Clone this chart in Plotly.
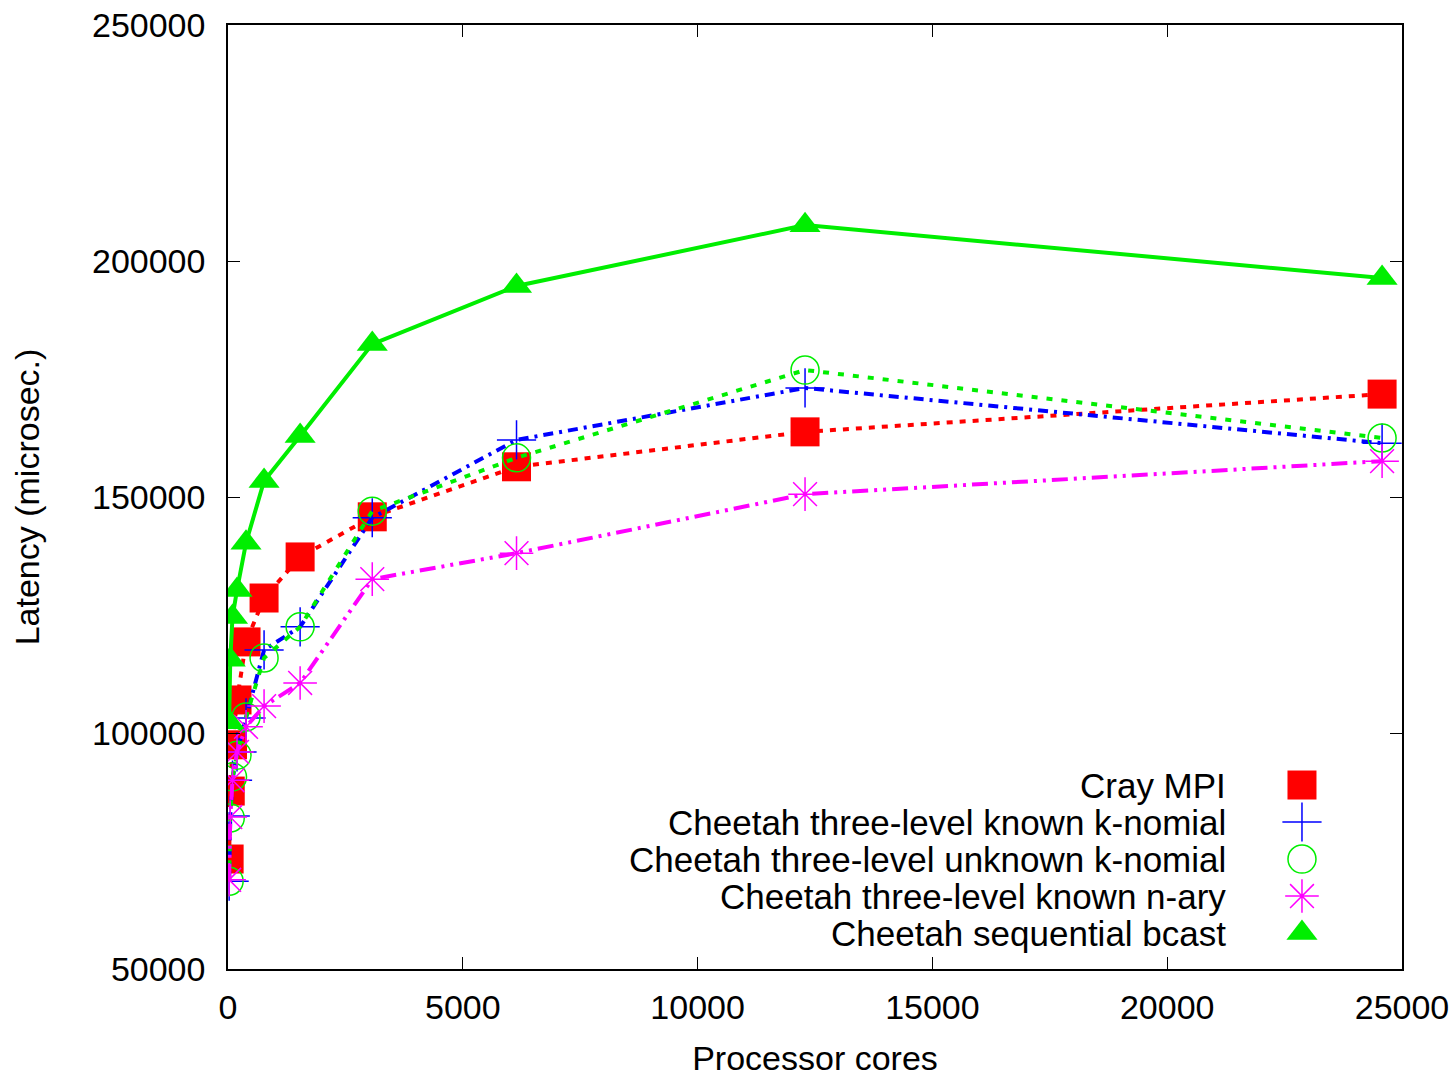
import plotly.graph_objects as go

cores = [24, 48, 96, 192, 384, 768, 1536, 3072, 6144, 12288, 24576]

cray_mpi = [73300, 87700, 97500, 107000, 119300, 128600, 137300, 145800, 156400, 163800, 171800]
known_knomial = [68600, 82400, 90000, 96000, 103200, 117600, 122500, 145600, 162100, 173100, 161400]
unknown_knomial = [68600, 82000, 90700, 95300, 103400, 115900, 122500, 147000, 158300, 176900, 162500]
known_nary = [68900, 82200, 90000, 96000, 101300, 105700, 110600, 132600, 138100, 150600, 157600]
sequential = [102300, 115500, 124600, 130300, 140300, 153400, 162900, 182400, 194700, 207600, 196400]

series_names = [
    "Cray MPI",
    "Cheetah three-level known k-nomial",
    "Cheetah three-level unknown k-nomial",
    "Cheetah three-level known n-ary",
    "Cheetah sequential bcast",
]

x_ticks = [0, 5000, 10000, 15000, 20000, 25000]
y_ticks = [50000, 100000, 150000, 200000, 250000]

FONT = "Liberation Sans, Arial, Helvetica, sans-serif"
FS = 34

styles = [
    dict(color="#ff0000", dash="6px,7px", symbol="square", size=29, mline=0),
    dict(color="#0000ff", dash="10px,6px,3px,6px", symbol="cross-thin-open", size=28, mline=1.5),
    dict(color="#00ee00", dash="6px,9px", symbol="circle-open", size=28, mline=1.5),
    dict(color="#ff00ff", dash="16px,6px,3px,6px,3px,6px", symbol="asterisk-open", size=28, mline=1.5),
    dict(color="#00ee00", dash="solid", symbol="triangle-up", size=27, mline=0),
]
data = [cray_mpi, known_knomial, unknown_knomial, known_nary, sequential]

fig = go.Figure()
for name, vals, st in zip(series_names, data, styles):
    fig.add_trace(go.Scatter(
        x=cores, y=vals, name=name, mode="lines+markers",
        line=dict(color=st["color"], width=4, dash=st["dash"]),
        marker=dict(symbol=st["symbol"], size=st["size"], color=st["color"],
                    line=dict(color=st["color"], width=st["mline"])),
        showlegend=False,
    ))

# custom legend (text left, symbol right, like gnuplot)
leg_y = [0.1949, 0.1557, 0.1165, 0.0773, 0.0381]
for name, st, ly in zip(series_names, styles, leg_y):
    fig.add_trace(go.Scatter(
        x=[0.9148], y=[ly], xaxis="x2", yaxis="y2", mode="markers",
        marker=dict(symbol=st["symbol"], size=st["size"], color=st["color"],
                    line=dict(color=st["color"], width=st["mline"])),
        showlegend=False, hoverinfo="skip",
    ))
    fig.add_annotation(x=0.8515, y=ly, xref="paper", yref="paper", text=name,
                       showarrow=False, xanchor="right", yanchor="middle",
                       font=dict(family=FONT, size=35, color="black"))

axis_common = dict(
    showgrid=False, zeroline=False, showline=True, linecolor="black", linewidth=1.5,
    mirror="allticks", ticks="inside", ticklen=12, tickwidth=1, tickcolor="black",
    tickfont=dict(family=FONT, size=FS, color="black"), automargin=False,
)

fig.update_layout(
    width=1454, height=1077,
    margin=dict(l=228, r=52, t=25, b=108),
    plot_bgcolor="white", paper_bgcolor="white",
    xaxis=dict(range=[0, 25000], tickvals=x_ticks, ticktext=[str(v) for v in x_ticks],
               ticklabelstandoff=7,
               title=dict(text="Processor cores", font=dict(family=FONT, size=FS, color="black"), standoff=27),
               **axis_common),
    yaxis=dict(range=[50000, 250000], tickvals=y_ticks, ticktext=[str(v) for v in y_ticks],
               ticklabelstandoff=14,
               title=dict(text="Latency (microsec.)", font=dict(family=FONT, size=FS, color="black"), standoff=42),
               **axis_common),
    xaxis2=dict(range=[0, 1], overlaying="x", visible=False, fixedrange=True),
    yaxis2=dict(range=[0, 1], overlaying="y", visible=False, fixedrange=True),
)

fig.write_html("out.html")
